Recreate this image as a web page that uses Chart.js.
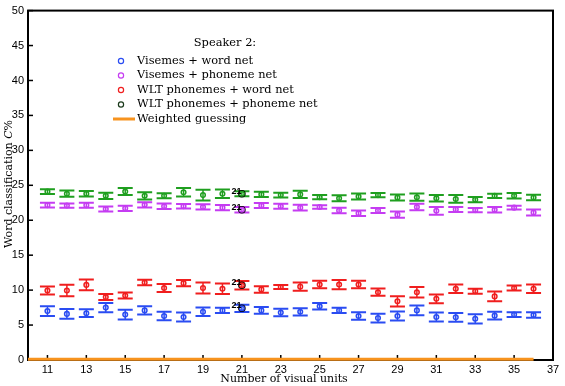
<!DOCTYPE html>
<html><head><meta charset="utf-8">
<script src="https://cdn.jsdelivr.net/npm/chart.js@4/dist/chart.umd.min.js"></script>
<style>html,body{margin:0;padding:0;background:#fff}#wrap{width:565px;height:386px}</style>
</head><body><div id="wrap"><canvas id="c" width="565" height="386"></canvas></div>
<script>
// ---- data ----
const units = [11,12,13,14,15,16,17,18,19,20,21,22,23,24,25,26,27,28,29,30,31,32,33,34,35,36];
const visemesWordNet    = [7.0,6.6,6.7,7.5,6.5,7.1,6.3,6.15,6.9,7.1,7.4,7.1,6.8,6.9,7.7,7.1,6.3,6.0,6.3,7.1,6.15,6.1,5.9,6.35,6.5,6.45];
const visemesWordNetErr = [0.7,0.7,0.55,0.66,0.7,0.6,0.6,0.64,0.6,0.38,0.52,0.47,0.55,0.52,0.47,0.38,0.55,0.62,0.64,0.69,0.64,0.64,0.66,0.55,0.33,0.4];
const visemesPhoneNet    = [22.16,22.1,22.16,21.6,21.7,22.2,22.0,22.0,21.9,21.8,21.5,22.1,22.0,21.8,21.9,21.4,21.0,21.4,20.8,21.9,21.35,21.55,21.45,21.5,21.8,21.1];
const visemesPhoneNetErr = [0.33,0.31,0.36,0.36,0.36,0.38,0.38,0.33,0.38,0.38,0.4,0.36,0.36,0.4,0.24,0.4,0.38,0.36,0.45,0.47,0.55,0.36,0.31,0.38,0.28,0.43];
const wltWordNet    = [9.94,9.94,10.75,9.0,9.23,11.1,10.3,11.0,10.3,10.2,10.7,10.1,10.45,10.5,10.8,10.8,10.8,9.7,8.4,9.7,8.75,10.2,9.85,9.1,10.3,10.2];
const wltWordNetErr = [0.57,0.83,0.78,0.43,0.43,0.4,0.57,0.45,0.8,0.75,0.6,0.47,0.28,0.6,0.55,0.66,0.55,0.52,0.73,0.76,0.62,0.6,0.36,0.7,0.36,0.6];
const wltPhoneNet    = [24.1,23.8,23.8,23.5,24.1,23.5,23.5,24.0,23.6,23.8,23.8,23.7,23.6,23.7,23.3,23.15,23.4,23.6,23.25,23.3,23.15,23.05,22.95,23.5,23.5,23.25];
const wltPhoneNetErr = [0.35,0.45,0.4,0.45,0.5,0.52,0.35,0.62,0.78,0.6,0.35,0.38,0.33,0.52,0.3,0.43,0.43,0.3,0.43,0.52,0.47,0.55,0.38,0.3,0.4,0.38];
const guessX = [10, 36];
const guessY = [0.1, 0.1];
const highlightUnit = 21;
const highlightLabel = '21';
const xTickValues = [11,13,15,17,19,21,23,25,27,29,31,33,35,37];
const yTickValues = [0,5,10,15,20,25,30,35,40,45,50];
const legendTitle = 'Speaker 2:';
const xTitle = 'Number of visual units';
const yTitleParts = ['Word classification ', 'C', '%'];

// ---- style ----
const C_BLUE='#2a4cf2', C_MAG='#c53cf2', C_RED='#f01e1e', C_GREEN='#1f9f1f', C_ORANGE='#f7931e';
const SERIF='"DejaVu Serif", serif';
const SANS='"Liberation Sans", Arial, sans-serif';

const seriesDefs = [
  {label:'Visemes + word net', y:visemesWordNet, e:visemesWordNetErr, color:C_BLUE, legendColor:C_BLUE},
  {label:'Visemes + phoneme net', y:visemesPhoneNet, e:visemesPhoneNetErr, color:C_MAG, legendColor:C_MAG},
  {label:'WLT phonemes + word net', y:wltWordNet, e:wltWordNetErr, color:C_RED, legendColor:C_RED},
  {label:'WLT phonemes + phoneme net', y:wltPhoneNet, e:wltPhoneNetErr, color:C_GREEN, legendColor:'#1b3a1b'}
];

const hIdx = units.indexOf(highlightUnit);
const datasets = seriesDefs.map(s => ({
  type:'scatter', label:s.label,
  data: units.map((u,i)=>({x:u, y:s.y[i]})),
  errors: s.e,
  borderColor:s.color, backgroundColor:'rgba(0,0,0,0)',
  pointRadius:2.3, borderWidth:1.5, pointStyle:'circle', clip:false
}));
datasets.push({
  type:'line', label:'Weighted guessing',
  data: guessX.map((x,i)=>({x, y:guessY[i]})),
  borderColor:C_ORANGE, borderWidth:3, pointRadius:0, clip:false, showLine:true
});
datasets.push({
  type:'scatter', label:'highlight', isHighlight:true,
  data: seriesDefs.map(s=>({x:highlightUnit, y:s.y[hIdx]})),
  borderColor:'#000', backgroundColor:'rgba(0,0,0,0)', pointRadius:3, borderWidth:1.6, clip:false
});

const framePlugin = {
  id:'frame',
  beforeDatasetsDraw(chart){
    const {ctx, chartArea:a, scales:{x,y}} = chart;
    ctx.save();
    ctx.strokeStyle='#000'; ctx.lineWidth=2;
    ctx.strokeRect(a.left, a.top, a.right-a.left, a.bottom-a.top);
    ctx.lineWidth=1.5;
    yTickValues.forEach(v=>{ const p=y.getPixelForValue(v); ctx.beginPath(); ctx.moveTo(a.left,p); ctx.lineTo(a.left+5,p); ctx.stroke(); });
    xTickValues.forEach(v=>{ if(v>=37) return; const p=x.getPixelForValue(v); ctx.beginPath(); ctx.moveTo(p,a.bottom); ctx.lineTo(p,a.bottom-5); ctx.stroke(); });
    // error bars
    chart.data.datasets.forEach(ds=>{
      if(!ds.errors) return;
      ctx.strokeStyle=ds.borderColor;
      ds.data.forEach((pt,i)=>{
        const px=x.getPixelForValue(pt.x);
        const top=y.getPixelForValue(pt.y+ds.errors[i]);
        const bot=y.getPixelForValue(pt.y-ds.errors[i]);
        ctx.lineWidth=1.5;
        ctx.beginPath(); ctx.moveTo(px,top); ctx.lineTo(px,bot); ctx.stroke();
        ctx.lineWidth=2;
        ctx.beginPath(); ctx.moveTo(px-7.5,top); ctx.lineTo(px+7.5,top); ctx.moveTo(px-7.5,bot); ctx.lineTo(px+7.5,bot); ctx.stroke();
      });
    });
    ctx.restore();
  },
  afterDraw(chart){
    const {ctx, scales:{x,y}} = chart;
    ctx.save();
    // highlight labels
    ctx.fillStyle='#000'; ctx.font='bold 9px '+SANS; ctx.textAlign='right'; ctx.textBaseline='middle';
    const hd = chart.data.datasets.find(d=>d.isHighlight);
    hd.data.forEach(pt=>{
      ctx.fillText(highlightLabel, x.getPixelForValue(pt.x)-0.5, y.getPixelForValue(pt.y)-2.5);
    });
    // y title
    ctx.save();
    ctx.translate(9, 184); ctx.rotate(-Math.PI/2);
    ctx.textBaseline='middle'; ctx.textAlign='left';
    const fN='11px '+SERIF, fI='italic 11px '+SERIF;
    const fonts=[fN,fI,fN];
    let total=0; yTitleParts.forEach((t,i)=>{ctx.font=fonts[i]; total+=ctx.measureText(t).width;});
    let cx=-total/2;
    yTitleParts.forEach((t,i)=>{ctx.font=fonts[i]; ctx.fillText(t,cx,0); cx+=ctx.measureText(t).width;});
    ctx.restore();
    // x title
    ctx.font='11px '+SERIF; ctx.textAlign='center'; ctx.textBaseline='middle';
    ctx.fillText(xTitle, 284, 379);
    // legend
    ctx.font='11.4px '+SERIF; ctx.textBaseline='middle';
    ctx.textAlign='center'; ctx.fillText(legendTitle, 225, 43);
    ctx.textAlign='left';
    const rows=[61,75.5,90,104.5,119];
    seriesDefs.forEach((s,i)=>{
      ctx.strokeStyle=s.legendColor; ctx.lineWidth=1.2;
      ctx.beginPath(); ctx.arc(121, rows[i], 2.6, 0, Math.PI*2); ctx.stroke();
      ctx.fillStyle='#000'; ctx.fillText(s.label, 137, rows[i]);
    });
    ctx.strokeStyle=C_ORANGE; ctx.lineWidth=3;
    ctx.beginPath(); ctx.moveTo(113, rows[4]); ctx.lineTo(135, rows[4]); ctx.stroke();
    ctx.fillText(datasets[4].label, 137, rows[4]);
    ctx.restore();
  }
};

new Chart(document.getElementById('c'), {
  data:{datasets},
  options:{
    responsive:false, animation:false, devicePixelRatio:1,
    layout:{padding:{top:9, right:12, left:0, bottom:0}},
    plugins:{legend:{display:false}, tooltip:{enabled:false}},
    scales:{
      x:{type:'linear', min:10, max:37,
        afterBuildTicks:s=>{s.ticks=xTickValues.map(v=>({value:v}));},
        afterFit:s=>{s.height=26;},
        grid:{display:false, drawTicks:false}, border:{display:false},
        ticks:{color:'#000', font:{family:'"Liberation Sans", Arial, sans-serif', size:11}, padding:3, maxRotation:0, autoSkip:false, callback:v=>String(v)}
      },
      y:{type:'linear', min:0, max:50,
        afterBuildTicks:s=>{s.ticks=yTickValues.map(v=>({value:v}));},
        afterFit:s=>{s.width=28;},
        grid:{display:false, drawTicks:false}, border:{display:false},
        ticks:{color:'#000', font:{family:'"Liberation Sans", Arial, sans-serif', size:11}, padding:4, callback:v=>String(v)}
      }
    }
  },
  plugins:[framePlugin]
});
</script></body></html>
